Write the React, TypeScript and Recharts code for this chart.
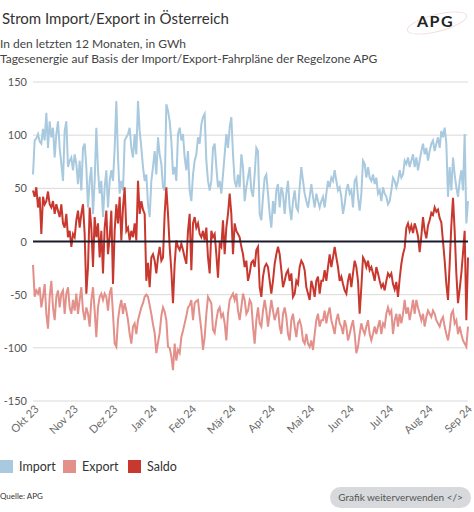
import React from 'react';
import { LineChart, Line, XAxis, YAxis, CartesianGrid, ReferenceLine } from 'recharts';

// Tageswerte in GWh, von links nach rechts
const MONTHS = ['Okt 23', 'Nov 23', 'Dez 23', 'Jan 24', 'Feb 24', 'Mär 24', 'Apr 24', 'Mai 24', 'Jun 24', 'Jul 24', 'Aug 24', 'Sep 24'];
const Y_TICKS = [-150, -100, -50, 0, 50, 100, 150];

const IMPORT = [
  63, 95, 97, 101, 94, 92, 106, 95, 121, 88, 113, 98, 107, 79, 101, 113, 88, 73, 57, 104, 113, 70, 76, 79, 67, 82, 73, 54, 76, 48, 88, 92, 70, 32, 57, 70, 26, 57, 107, 67, 45, 57, 23, 51, 67, 32, 57, 67,
  57, 88, 132, 79, 45, 57, 48, 95, 98, 101, 107, 88, 79, 101, 82, 132, 104, 88, 70, 57, 63, 35, 23, 57, 70, 85, 63, 98, 82, 73, 51, 48, 129, 123, 113, 95, 63, 70, 57, 101, 107, 95,
  101, 79, 67, 85, 48, 38, 63, 76, 82, 98, 92, 110, 117, 120, 76, 57, 48, 57, 88, 92, 70, 51, 57, 45, 63, 82, 101, 88, 107, 117, 82, 57, 51, 63, 51, 82, 70, 38, 51, 60, 70, 48,
  42, 63, 88, 85, 26, 20, 42, 60, 63, 45, 26, 13, 38, 26, 48, 54, 32, 51, 45, 26, 45, 57, 32, 20, 38, 48, 32, 29, 51, 70, 57, 45, 38, 32, 42, 54, 42, 32, 45, 38, 32, 38,
  42, 32, 45, 57, 51, 60, 57, 67, 57, 48, 51, 42, 26, 35, 48, 54, 45, 48, 32, 57, 60, 42, 29, 45, 76, 73, 60, 70, 60, 57, 63, 54, 60, 45, 48, 38, 51, 45, 42, 35, 38, 48,
  60, 57, 51, 57, 67, 60, 63, 76, 73, 79, 70, 76, 82, 70, 79, 67, 76, 85, 92, 82, 88, 76, 85, 92, 95, 85, 92, 98, 88, 104, 98, 107, 92, 42, 70, 48, 79, 63, 51, 42, 57, 67, 48, 101, 17, 38,
];

const EXPORT = [
  -22, -52, -46, -49, -43, -62, -52, -40, -68, -82, -52, -37, -62, -74, -52, -46, -62, -49, -46, -68, -49, -43, -62, -68, -55, -65, -49, -68, -55, -43, -65, -74, -62, -68, -80, -55, -43, -65, -90, -62, -52, -49, -55, -49, -52, -65, -49, -43,
  -68, -96, -99, -74, -62, -55, -68, -58, -65, -74, -87, -96, -80, -77, -87, -74, -68, -62, -58, -52, -50, -52, -60, -68, -78, -86, -105, -95, -86, -70, -62, -66, -74, -99, -100, -108, -121, -96, -112, -102, -105, -90,
  -84, -77, -70, -62, -60, -55, -74, -58, -56, -55, -70, -83, -102, -90, -68, -52, -55, -58, -83, -86, -74, -65, -62, -71, -68, -77, -93, -68, -55, -52, -49, -55, -49, -65, -74, -62, -49, -55, -68, -65, -55, -58,
  -80, -96, -74, -62, -77, -80, -65, -55, -65, -80, -68, -55, -65, -74, -68, -62, -80, -87, -68, -62, -71, -87, -93, -74, -68, -80, -90, -77, -74, -80, -93, -96, -87, -96, -99, -93, -102, -87, -74, -68, -80, -74,
  -74, -65, -77, -68, -62, -74, -80, -87, -74, -68, -77, -80, -87, -74, -80, -93, -87, -80, -74, -87, -105, -99, -87, -77, -83, -87, -80, -74, -87, -93, -87, -80, -87, -80, -74, -87, -77, -80, -68, -62, -68, -65,
  -87, -74, -68, -80, -68, -77, -68, -55, -68, -62, -74, -65, -55, -68, -55, -62, -68, -74, -68, -80, -71, -65, -68, -71, -65, -68, -74, -77, -80, -74, -71, -80, -87, -93, -83, -68, -65, -77, -74, -87, -80, -87, -93, -96, -99, -80,
];

const SALDO = [
  48, 42, 51, 32, 42, 7, 42, 35, 38, 47, 35, 32, 38, 26, 35, 29, 23, 35, 17, 13, 26, 4, 10, -5, 7, 4, 20, 29, 13, 26, 35, 7, -49, -24, 32, 13, -24, 23, 4, 17, -15, 10, -30, 13, 29, -12, 4, 29,
  -40, 10, 35, 17, 42, 1, 32, 51, 10, 13, 1, 10, 4, 17, 1, 57, 26, 38, 30, 26, -37, -20, -43, -15, -12, -18, -30, -15, -5, -18, -15, 26, 51, 26, -5, -27, -58, -21, 1, -5, -8, -2,
  -8, -15, -21, 10, 26, -27, 17, 23, 13, 17, 7, 4, 10, 1, 13, -15, -30, 10, 4, 7, -12, -34, -2, -5, 20, -12, 13, 26, 45, 26, -12, 17, 10, 7, 4, -5, -12, -24, -18, -37, -30, -20,
  -18, -24, -8, -5, -43, -52, -33, -24, -21, -24, -37, -49, -37, -21, -12, -5, -12, -27, -43, -37, -30, -27, -37, -30, -52, -49, -37, -40, -24, -18, -21, -27, -43, -49, -55, -37, -43, -52, -37, -33, -49, -37,
  -37, -27, -37, -24, -12, -24, -15, -5, -15, -24, -37, -33, -40, -46, -49, -37, -30, -43, -30, -18, -24, -37, -68, -43, -15, -18, -24, -18, -27, -24, -30, -37, -24, -30, -37, -43, -40, -46, -37, -30, -33, -30,
  -40, -45, -38, -52, -35, -21, -12, -6, 13, 17, 10, 15, 8, 17, 12, 5, -10, 5, 23, 10, 3, 15, 20, 27, 25, 32, 28, 30, 22, 18, 0, -18, -40, -55, -21, 15, 41, 10, -30, -58, -45, -30, -11, 10, -74, -15,
];

const N = IMPORT.length;
const TICK_POS = MONTHS.map((_, k) => 1 + (k * (N - 2)) / (MONTHS.length - 1));

const data = IMPORT.map((v, i) => ({ i, imp: v, exp: EXPORT[i], saldo: SALDO[i] }));

const FONT = 'Lato, "Open Sans", sans-serif';
const C_IMPORT = '#a9c9de';
const C_EXPORT = '#e3908b';
const C_SALDO = '#c8382e';

const XTick = (props: any) => {
  const { x, y, payload } = props;
  const idx = TICK_POS.findIndex((t) => Math.abs(t - payload.value) < 0.01);
  const tx = x + 2;
  const ty = y - 2;
  return (
    <text x={tx} y={ty} dy={4} textAnchor="end" transform={`rotate(-45 ${tx} ${ty})`} fill="#6a6a6a" fontSize={11} fontFamily={FONT}>
      {MONTHS[idx]}
    </text>
  );
};

const YTick = (props: any) => {
  const { y, payload } = props;
  return (
    <text x={27} y={y} dy={4} textAnchor="end" fill="#555" fontSize={11} fontFamily={FONT}>
      {payload.value}
    </text>
  );
};

const LegendItem = ({ color, label, left }: { color: string; label: string; left: number }) => (
  <div style={{ position: 'absolute', left, top: 459, display: 'flex', alignItems: 'center' }}>
    <div style={{ width: 13, height: 13, background: color }} />
    <span style={{ marginLeft: 6, fontSize: 12.5, color: '#333' }}>{label}</span>
  </div>
);

export default function App() {
  return (
    <div style={{ position: 'absolute', left: 0, top: 0, width: 474, height: 512, background: '#fff', fontFamily: FONT, overflow: 'hidden' }}>
      <div style={{ position: 'absolute', left: 2, top: 8, fontSize: 15, color: '#333', lineHeight: '20px' }}>
        Strom Import/Export in Österreich
      </div>
      <div style={{ position: 'absolute', left: 0, top: 36, fontSize: 12, color: '#444', lineHeight: '15px' }}>
        In den letzten 12 Monaten, in GWh
        <br />
        Tagesenergie auf Basis der Import/Export-Fahrpläne der Regelzone APG
      </div>
      <div style={{ position: 'absolute', left: 404, top: 6, width: 66, height: 30 }}>
        <div style={{ position: 'absolute', left: 2, top: 8, width: 60, height: 16, borderRadius: '50%', border: '1.5px solid #f4dcdc', transform: 'rotate(-14deg)' }} />
        <div style={{ position: 'absolute', left: 13, top: 5, fontSize: 16, fontWeight: 700, letterSpacing: 1.5, color: '#222' }}>APG</div>
      </div>

      <div style={{ position: 'absolute', left: 0, top: 0 }}>
        <LineChart width={474} height={440} data={data} margin={{ top: 82, right: 6, left: 0, bottom: 0 }}>
          <CartesianGrid vertical={false} stroke="#d9d9d9" />
          <XAxis
            dataKey="i"
            type="number"
            domain={[0, N - 1]}
            ticks={TICK_POS}
            interval={0}
            tick={<XTick />}
            tickLine={false}
            axisLine={false}
            height={39}
          />
          <YAxis
            domain={[-150, 150]}
            ticks={Y_TICKS}
            tick={<YTick />}
            tickLine={false}
            axisLine={false}
            width={33}
            interval={0}
          />
          <Line dataKey="imp" stroke={C_IMPORT} strokeWidth={2} dot={false} isAnimationActive={false} />
          <Line dataKey="exp" stroke={C_EXPORT} strokeWidth={2} dot={false} isAnimationActive={false} />
          <Line dataKey="saldo" stroke={C_SALDO} strokeWidth={2} dot={false} isAnimationActive={false} />
          <ReferenceLine y={0} stroke="#1a1a2a" strokeWidth={2} />
        </LineChart>
      </div>

      <LegendItem color={C_IMPORT} label="Import" left={0} />
      <LegendItem color={C_EXPORT} label="Export" left={63} />
      <LegendItem color={C_SALDO} label="Saldo" left={128} />

      <div style={{ position: 'absolute', left: 0, top: 491, fontSize: 8, color: '#333' }}>Quelle: APG</div>
      <div
        style={{
          position: 'absolute',
          left: 330,
          top: 487,
          width: 141,
          height: 21,
          borderRadius: 11,
          background: '#d7d9dc',
          color: '#555',
          fontSize: 10,
          lineHeight: '21px',
          textAlign: 'center',
        }}
      >
        Grafik weiterverwenden &lt;/&gt;
      </div>
    </div>
  );
}
